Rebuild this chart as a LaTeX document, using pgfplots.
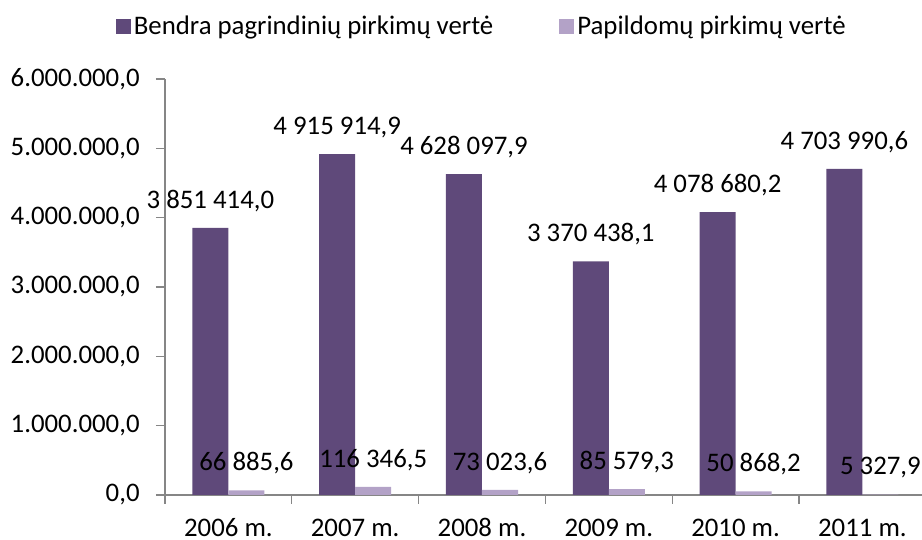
\documentclass[border=0pt]{standalone}
\usepackage{pgfplots}
\pgfplotsset{compat=1.18}
\usepackage{fontspec}
\setmainfont{Carlito}
\definecolor{darkpurple}{HTML}{5F497A}
\definecolor{lightpurple}{HTML}{B3A2C7}
\definecolor{axisgray}{HTML}{868686}
\begin{document}
\begin{tikzpicture}[font=\fontsize{13.4}{16}\selectfont]
\path[use as bounding box] (-82.5pt,-22.5pt) rectangle (378.5pt,247.5pt);
\begin{axis}[
  at={(0pt,0pt)}, anchor=south west,
  scale only axis,
  width=380.4pt, height=208pt,
  xmin=-0.5, xmax=5.5,
  ymin=0, ymax=6000000,
  axis x line=bottom, axis y line=left,
  axis line style={draw=axisgray, line width=0.6pt, -},
  tick align=outside,
  major tick length=4.5pt,
  tick style={draw=axisgray, line width=0.6pt},
  xtick={-0.5,0.5,...,5.5},
  x tick label as interval,
  xticklabels={2006 m.,2007 m.,2008 m.,2009 m.,2010 m.,2011 m.},
  xticklabel style={anchor=base, inner sep=0pt, yshift=-16.1pt},
  ytick={0,1000000,2000000,3000000,4000000,5000000,6000000},
  yticklabels={{0,0},{1.000.000,0},{2.000.000,0},{3.000.000,0},{4.000.000,0},{5.000.000,0},{6.000.000,0}},
  yticklabel style={xshift=-4.67pt},
  scaled y ticks=false,
  ybar, bar width=0.284,
  point meta=explicit symbolic,
  nodes near coords,
  nodes near coords style={anchor=center, yshift=13.5pt, text=black},
  clip=false,
  legend columns=2,
  legend style={at={(0.417,1.125)}, anchor=center, draw=none, fill=none,
    /tikz/every even column/.append style={column sep=31.5pt},
    inner sep=0pt, nodes={inner xsep=1.5pt}},
  legend image code/.code={\fill[#1] (0pt,-3.75pt) rectangle (7.5pt,3.75pt);},
  legend cell align=left,
]
\addplot[fill=darkpurple, draw=none, bar shift=-0.142] table[meta=label, col sep=semicolon] {
x;y;label
0;3851414.0;3 851 414,0
1;4915914.9;4 915 914,9
2;4628097.9;4 628 097,9
3;3370438.1;3 370 438,1
4;4078680.2;4 078 680,2
5;4703990.6;4 703 990,6
};
\addlegendentry{Bendra pagrindinių pirkimų vertė}
\addplot[fill=lightpurple, draw=none, bar shift=0.142] table[meta=label, col sep=semicolon] {
x;y;label
0;66885.6;66 885,6
1;116346.5;116 346,5
2;73023.6;73 023,6
3;85579.3;85 579,3
4;50868.2;50 868,2
5;5327.9;5 327,9
};
\addlegendentry{Papildomų pirkimų vertė}
\end{axis}
\end{tikzpicture}
\end{document}
